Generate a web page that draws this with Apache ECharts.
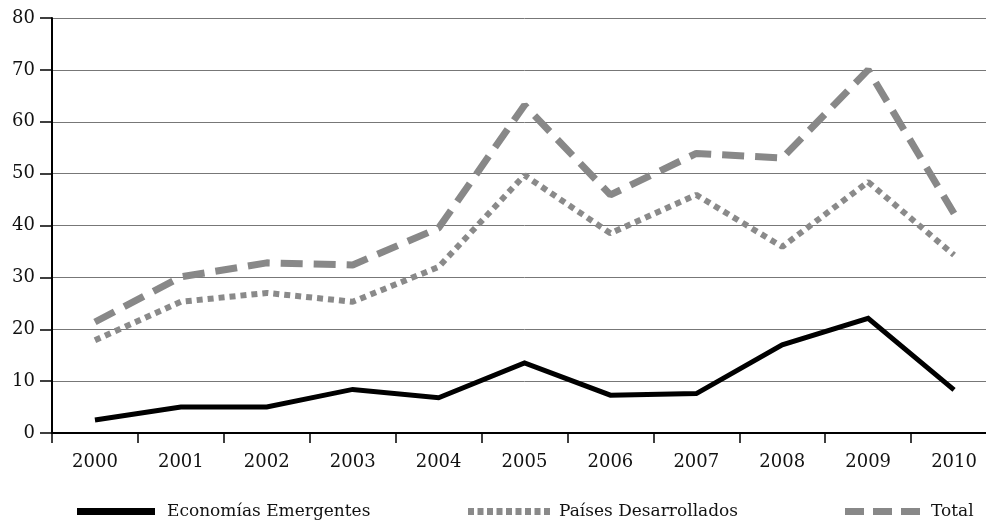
<!DOCTYPE html>
<html><head><meta charset="utf-8">
<script src="https://cdn.jsdelivr.net/npm/echarts@6/dist/echarts.min.js"></script>
<style>html,body{margin:0;padding:0;background:#fff;overflow:hidden}#c{width:998px;height:522px}</style>
</head><body><div id="c"></div>
<script>
const years = ['2000','2001','2002','2003','2004','2005','2006','2007','2008','2009','2010'];
const emergentes = [2.5, 5.0, 5.0, 8.4, 6.8, 13.5, 7.3, 7.6, 17.0, 22.1, 8.3];
const desarrollados = [17.9, 25.3, 27.0, 25.3, 32.0, 49.7, 38.5, 45.9, 35.9, 48.4, 34.3];
const total = [21.4, 30.1, 32.8, 32.4, 39.5, 63.2, 45.9, 53.9, 53.0, 70.0, 42.3];
const yTicks = [0, 10, 20, 30, 40, 50, 60, 70, 80];
const names = ['Economías Emergentes', 'Países Desarrollados', 'Total'];

const font = 'DejaVu Serif';
let dotPath = 'path://';
for (let i = 0; i < 9; i++) dotPath += 'M' + (i * 9.5) + ' 0h6v7h-6z';
let dashPath = 'path://';
for (let i = 0; i < 3; i++) dashPath += 'M' + (i * 28) + ' 0h19v7h-19z';

const chart = echarts.init(document.getElementById('c'));
const legendText = (p) => ({fontFamily: font, fontSize: 17, color: '#111', padding: [0, 0, 0, p]});
chart.setOption({
  animation: false,
  grid: {left: 52, top: 18, right: 1, bottom: 89, containLabel: false},
  xAxis: {
    type: 'category', data: years, boundaryGap: true,
    axisLine: {lineStyle: {color: '#000', width: 2}},
    axisTick: {show: true, length: 10, lineStyle: {color: '#000', width: 1.5}},
    axisLabel: {fontFamily: font, fontSize: 18, color: '#111', margin: 20}
  },
  yAxis: {
    type: 'value', min: yTicks[0], max: yTicks[yTicks.length - 1], interval: 10,
    axisLine: {show: true, lineStyle: {color: '#000', width: 2}},
    axisTick: {show: true, length: 12, lineStyle: {color: '#000', width: 1.5}},
    axisLabel: {fontFamily: font, fontSize: 18, color: '#111', margin: 17},
    splitLine: {lineStyle: {color: '#777', width: 1}}
  },
  legend: [
    {data: [{name: names[0], icon: 'rect'}], left: 72, top: 498, itemWidth: 78, itemHeight: 7, textStyle: legendText(7)},
    {data: [{name: names[1], icon: dotPath}], left: 463, top: 498, itemWidth: 82, itemHeight: 7, textStyle: legendText(4)},
    {data: [{name: names[2], icon: dashPath}], left: 840, top: 498, itemWidth: 75, itemHeight: 7, textStyle: legendText(6)}
  ],
  series: [
    {name: names[0], type: 'line', data: emergentes, symbol: 'none', z: 4,
     lineStyle: {color: '#000', width: 5, cap: 'butt', join: 'miter'}, itemStyle: {color: '#000'}},
    {name: names[1], type: 'line', data: desarrollados, symbol: 'none', z: 3,
     lineStyle: {color: '#8a8a8a', width: 6, type: [6, 5], cap: 'butt'}, itemStyle: {color: '#8a8a8a'}},
    {name: names[2], type: 'line', data: total, symbol: 'none', z: 3,
     lineStyle: {color: '#888', width: 7, type: [22, 11], cap: 'butt'}, itemStyle: {color: '#888'}}
  ]
});
</script></body></html>
